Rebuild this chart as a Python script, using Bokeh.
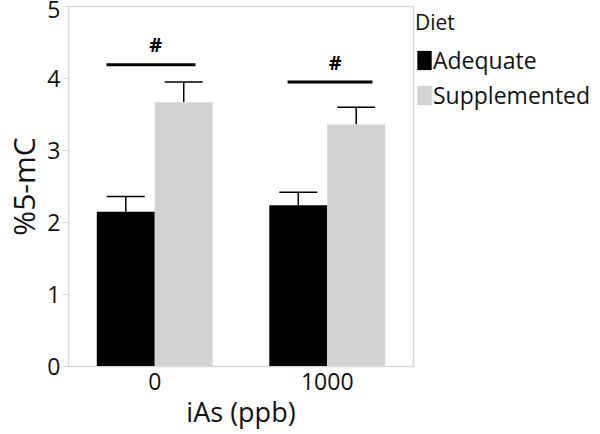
from bokeh.plotting import figure
from bokeh.models import ColumnDataSource, FactorRange, Range1d, Whisker, TeeHead, Legend, LegendItem, FixedTicker
from bokeh.transform import dodge
from bokeh.core.properties import value
from bokeh.embed import file_html
from bokeh.resources import INLINE

categories = ["0", "1000"]
adequate = [2.15, 2.24]
adequate_err = [0.21, 0.18]
supplemented = [3.67, 3.36]
supplemented_err = [0.28, 0.24]
sig_y = [4.19, 3.95]
sig_x0_offset = [-0.28, -0.23]
sig_x1_offset = [0.236, 0.262]
hash_y = [4.47, 4.22]
hash_offset = [0.006, 0.046]

FONT = "Open Sans"
GRAY = "#d9d9d9"
TXT = "#111111"

src = ColumnDataSource(dict(
    cat=categories,
    ad=adequate, ad_up=[a + e for a, e in zip(adequate, adequate_err)],
    su=supplemented, su_up=[a + e for a, e in zip(supplemented, supplemented_err)],
))

p = figure(x_range=FactorRange(*categories, range_padding=0), y_range=Range1d(0, 5),
           frame_width=345, frame_height=360, output_backend="svg", toolbar_location=None,
           min_border_left=10, min_border_top=6, min_border_right=0, min_border_bottom=0)

w = 0.336
r_ad = p.vbar(x=dodge("cat", -w / 2, range=p.x_range), top="ad", width=w, source=src,
              fill_color="black", line_color=None)
r_su = p.vbar(x=dodge("cat", w / 2, range=p.x_range), top="su", width=w, source=src,
              fill_color="#d3d3d3", line_color=None)

for col, up, off in [("ad", "ad_up", -w / 2), ("su", "su_up", w / 2)]:
    wh = Whisker(base=dodge("cat", off, range=p.x_range), lower=col, upper=up, source=src,
                 dimension="height", line_color="black", line_width=1.5,
                 upper_head=TeeHead(size=38, line_color="black", line_width=1.5),
                 lower_head=None)
    p.add_layout(wh)

x0 = [(c, o) for c, o in zip(categories, sig_x0_offset)]
x1 = [(c, o) for c, o in zip(categories, sig_x1_offset)]
p.segment(x0=x0, y0=sig_y, x1=x1, y1=sig_y, line_color="black", line_width=3)
hx = [(c, o) for c, o in zip(categories, hash_offset)]
p.text(x=hx, y=hash_y, text=["#", "#"], text_font=value(FONT), text_font_size="20px",
       text_font_style="bold", text_align="center", text_baseline="middle", text_color="black")

p.xgrid.visible = False
p.ygrid.visible = False
p.outline_line_color = GRAY
p.outline_line_width = 1.5

p.yaxis.ticker = FixedTicker(ticks=[0, 1, 2, 3, 4, 5])
p.yaxis.minor_tick_line_color = None
p.yaxis.major_tick_line_color = GRAY
p.yaxis.major_tick_out = 6
p.yaxis.major_tick_in = 0
p.yaxis.axis_line_color = GRAY
p.yaxis.major_label_text_font = FONT
p.yaxis.major_label_text_font_size = "23px"
p.yaxis.major_label_text_line_height = 1.0
p.yaxis.major_label_text_color = TXT
p.yaxis.major_label_standoff = 2
p.yaxis.axis_label = "%5-mC"
p.yaxis.axis_label_text_font = FONT
p.yaxis.axis_label_text_font_size = "30px"
p.yaxis.axis_label_text_font_style = "normal"
p.yaxis.axis_label_text_color = TXT
p.yaxis.axis_label_standoff = 0

p.xaxis.major_tick_line_color = None
p.xaxis.minor_tick_line_color = None
p.xaxis.axis_line_color = GRAY
p.xaxis.major_label_text_font = FONT
p.xaxis.major_label_text_font_size = "23px"
p.xaxis.major_label_text_color = TXT
p.xaxis.major_label_standoff = 0
p.xaxis.axis_label = "iAs (ppb)"
p.xaxis.axis_label_text_font = FONT
p.xaxis.axis_label_text_font_size = "27px"
p.xaxis.axis_label_text_font_style = "normal"
p.xaxis.axis_label_text_color = TXT
p.xaxis.axis_label_standoff = 0

legend = Legend(items=[LegendItem(label="Adequate", renderers=[r_ad]),
                       LegendItem(label="Supplemented", renderers=[r_su])],
                title="Diet", location="top_left")
legend.title_text_font = FONT
legend.title_text_font_size = "21px"
legend.title_text_font_style = "normal"
legend.title_text_color = TXT
legend.title_standoff = 8
legend.label_text_font = FONT
legend.label_text_font_size = "23px"
legend.label_text_color = TXT
legend.label_standoff = 0
legend.glyph_width = 18
legend.glyph_height = 24
legend.label_height = 24
legend.spacing = 3
legend.padding = 2
legend.margin = 2
legend.border_line_color = None
legend.background_fill_color = None
p.add_layout(legend, "right")

open("out.html", "w").write(file_html(p, INLINE))
